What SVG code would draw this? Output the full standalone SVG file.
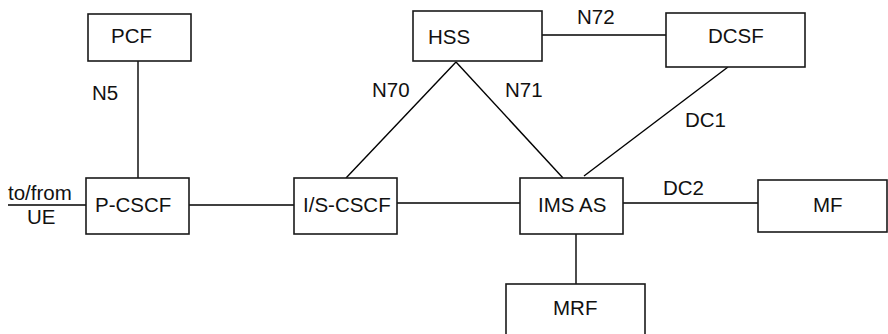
<svg xmlns="http://www.w3.org/2000/svg" width="888" height="334" viewBox="0 0 888 334">
<style>
rect{fill:#fff;stroke:#1a1a1a;stroke-width:1.6}
line{stroke:#000;stroke-width:1.4}
text{font-family:"Liberation Sans",Arial,sans-serif;font-size:20.5px;fill:#111}
</style>
<rect x="0" y="0" width="888" height="334" style="stroke:none"/>
<g id="connectors">
<line x1="138" y1="61" x2="138" y2="178"/>
<line x1="8" y1="205" x2="86" y2="205"/>
<line x1="189" y1="205" x2="294" y2="205"/>
<line x1="397" y1="203" x2="520" y2="203"/>
<line x1="456" y1="62" x2="346" y2="178"/>
<line x1="456" y1="62" x2="563" y2="178"/>
<line x1="542" y1="35" x2="666" y2="35"/>
<line x1="728" y1="67" x2="584" y2="176"/>
<line x1="623" y1="203" x2="758" y2="203"/>
<line x1="576" y1="234" x2="576" y2="284"/>
<text x="92" y="100">N5</text>
<text x="8" y="200">to/from</text>
<text x="27" y="224">UE</text>
<text x="372" y="97">N70</text>
<text x="505" y="97">N71</text>
<text x="577" y="24">N72</text>
<text x="685" y="127">DC1</text>
<text x="663" y="195">DC2</text>
</g>
<g id="pcf"><rect x="88" y="14" width="103" height="47"/><text x="111" y="43">PCF</text></g>
<g id="pcscf"><rect x="86" y="178" width="103" height="56"/><text x="95" y="212">P-CSCF</text></g>
<g id="iscscf"><rect x="294" y="178" width="103" height="56"/><text x="303" y="212">I/S-CSCF</text></g>
<g id="hss"><rect x="413" y="11" width="129" height="50"/><text x="428" y="44">HSS</text></g>
<g id="dcsf"><rect x="666" y="13" width="139" height="54"/><text x="708" y="43">DCSF</text></g>
<g id="imsas"><rect x="520" y="178" width="103" height="56"/><text x="538" y="212">IMS AS</text></g>
<g id="mf"><rect x="758" y="180" width="129" height="52"/><text x="813" y="212">MF</text></g>
<g id="mrf"><rect x="506" y="284" width="139" height="70"/><text x="553" y="315">MRF</text></g>
</svg>
